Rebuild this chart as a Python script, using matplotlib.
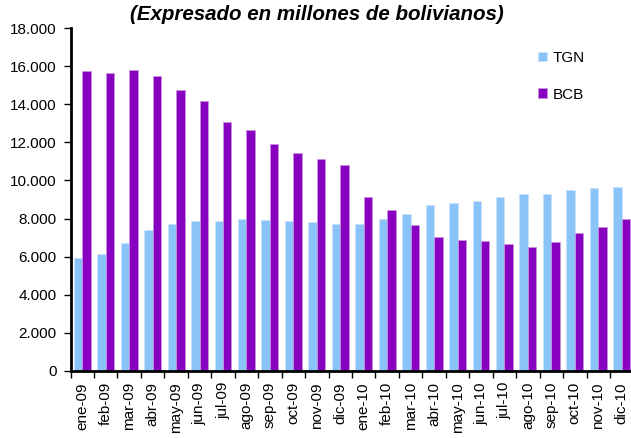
import matplotlib
matplotlib.use("Agg")
import matplotlib.pyplot as plt
import numpy as np
from matplotlib.ticker import FuncFormatter, FixedLocator

categories = ["ene-09", "feb-09", "mar-09", "abr-09", "may-09", "jun-09", "jul-09",
              "ago-09", "sep-09", "oct-09", "nov-09", "dic-09", "ene-10", "feb-10",
              "mar-10", "abr-10", "may-10", "jun-10", "jul-10", "ago-10", "sep-10",
              "oct-10", "nov-10", "dic-10"]
tgn = [5950, 6140, 6720, 7400, 7730, 7860, 7860, 7980, 7910, 7860, 7800, 7730,
       7730, 7980, 8240, 8700, 8820, 8940, 9130, 9270, 9270, 9520, 9590, 9660]
bcb = [15760, 15640, 15820, 15500, 14750, 14170, 13070, 12650, 11930, 11430, 11110, 10800,
       9130, 8430, 7660, 7030, 6890, 6840, 6650, 6530, 6790, 7230, 7540, 7980]
title = "(Expresado en millones de bolivianos)"

plt.rcParams['font.family'] = ['Liberation Sans', 'DejaVu Sans']

fig = plt.figure(figsize=(6.31, 4.38), dpi=100)
ax = fig.add_axes([70.5/631, 67/438, 563/631, 343/438])

x = np.arange(len(categories))
w = 0.36
c_tgn = "#89C3F7"
c_bcb = "#8800C0"
ax.bar(x - w/2, tgn, width=w, color=c_tgn, edgecolor="#C8E2FB", linewidth=0.6, label="TGN")
ax.bar(x + w/2, bcb, width=w, color=c_bcb, edgecolor="#C890E0", linewidth=0.6, label="BCB")

ax.set_xlim(-0.5, len(categories) - 0.5)
ax.set_ylim(0, 18000)
ax.set_yticks(np.arange(0, 18001, 2000))
ax.yaxis.set_major_formatter(FuncFormatter(lambda v, p: f"{int(v):,}".replace(",", ".")))
ax.set_xticks(x)
ax.set_xticklabels(categories, rotation=90)
ax.xaxis.set_minor_locator(FixedLocator(np.arange(-0.5, len(categories), 1.0)))
ax.tick_params(axis='x', which='major', length=0, pad=8, labelsize=11)
ax.tick_params(axis='x', which='minor', length=5, width=1, direction='out')
ax.tick_params(axis='y', length=5, width=1, direction='out', labelsize=11, pad=5)

for s in ["top", "right"]:
    ax.spines[s].set_visible(False)
for s in ["left", "bottom"]:
    ax.spines[s].set_linewidth(2)

fig.text(317/631, 1 - 15/438, title, ha="center", va="center", fontsize=14.8,
         fontweight="bold", fontstyle="italic")

leg = ax.legend(loc="upper left", bbox_to_anchor=(524/631, 1 - 37/438),
                bbox_transform=fig.transFigure, frameon=False, fontsize=11,
                handlelength=0.6, handleheight=0.6, handletextpad=0.4,
                labelspacing=1.5)

fig.savefig("out.png", dpi=100)
